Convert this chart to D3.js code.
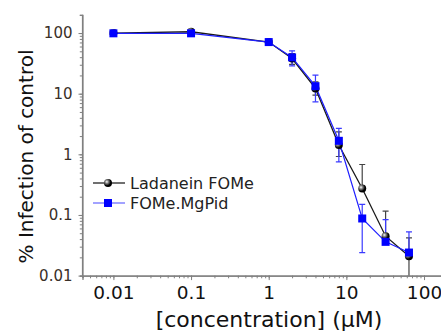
<!DOCTYPE html>
<html>
<head>
<meta charset="utf-8">
<script src="https://cdn.jsdelivr.net/npm/d3@7"></script>
<style>
  body { margin: 0; background: #fff; }
  svg text { font-family: "DejaVu Sans", sans-serif; }
</style>
</head>
<body>
<div id="chart"></div>
<script>
// Concentrations (µM) and % infection of control
const conc = [0.01, 0.1, 1, 2, 4, 8, 16, 32, 64];

const ladanein   = [100, 105, 71, 38,   12.2, 1.42, 0.273, 0.0447, 0.0209];
const ladaneinHi = [100, 105, 71, 46,   15.7, 2.35, 0.68,  0.116,  0.042];
const ladaneinLo = [100, 105, 71, 30.4, 9.5,  0.92, 0.273, 0.0447, 0.005];

const mgpid   = [99, 99, 71, 39.7, 13.3, 1.67, 0.0875, 0.036, 0.024];
const mgpidHi = [99, 99, 71, 51,   20.3, 2.67, 0.149,  0.084, 0.0526];
const mgpidLo = [99, 99, 71, 28.8, 7.35, 0.75, 0.024,  0.036, 0.024];

const xTicks = [0.01, 0.1, 1, 10, 100];
const xTickLabels = ['0.01', '0.1', '1', '10', '100'];
const yTicks = [0.01, 0.1, 1, 10, 100];
const yTickLabels = ['0.01', '0.1', '1', '10', '100'];

const seriesNames = ['Ladanein FOMe', 'FOMe.MgPid'];

const W = 441, H = 333;

const svg = d3.select('#chart').append('svg')
  .attr('width', W)
  .attr('height', H);

// sphere look for the black markers
const defs = svg.append('defs');
const grad = defs.append('radialGradient')
  .attr('id', 'sphere')
  .attr('cx', '35%').attr('cy', '35%').attr('r', '65%');
grad.append('stop').attr('offset', '0%').attr('stop-color', '#ffffff');
grad.append('stop').attr('offset', '30%').attr('stop-color', '#8a8a8a');
grad.append('stop').attr('offset', '75%').attr('stop-color', '#000000');

const x = d3.scaleLog().domain([0.004, 200]).range([82.5, 447.4]);
const y = d3.scaleLog().domain([0.01, 200]).range([275.6, 14.8]);

defs.append('clipPath').attr('id', 'plot')
  .append('rect')
  .attr('x', 82.5).attr('y', 0)
  .attr('width', W).attr('height', 275.6);

// axes: minor ticks then major ticks with labels
const axisColor = '#808080';

const xMinor = svg.append('g')
  .attr('transform', 'translate(0,275.6)')
  .call(d3.axisBottom(x).ticks(10, '').tickSize(2.7).tickFormat(''));
const xMajor = svg.append('g')
  .attr('transform', 'translate(0,275.6)')
  .call(d3.axisBottom(x).tickValues(xTicks).tickSize(4.5).tickPadding(6)
    .tickFormat((d, i) => xTickLabels[i]));

const yMinor = svg.append('g')
  .attr('transform', 'translate(82.5,0)')
  .call(d3.axisLeft(y).ticks(10, '').tickSize(2.7).tickFormat(''));
const yMajor = svg.append('g')
  .attr('transform', 'translate(82.5,0)')
  .call(d3.axisLeft(y).tickValues(yTicks).tickSize(4).tickPadding(6)
    .tickFormat((d, i) => yTickLabels[i]));

[xMinor, xMajor, yMinor, yMajor].forEach(g => {
  g.select('.domain').attr('stroke', axisColor).attr('stroke-width', 1.2);
  g.selectAll('.tick line').attr('stroke', axisColor);
});
xMajor.selectAll('.tick text').attr('fill', '#111').style('font-size', '18.5px');
yMajor.selectAll('.tick text').attr('fill', '#3a3028').style('font-size', '15px');
yMajor.select('.domain').attr('d', 'M-0,14.8V275.6');

// axis titles
svg.append('text')
  .attr('x', 269).attr('y', 327)
  .attr('text-anchor', 'middle')
  .attr('fill', '#111')
  .style('font-size', '22px')
  .text('[concentration] (µM)');

svg.append('text')
  .attr('transform', 'translate(33,156.5) rotate(-90)')
  .attr('text-anchor', 'middle')
  .attr('fill', '#111')
  .style('font-size', '20px')
  .text('% Infection of control');

const plot = svg.append('g').attr('clip-path', 'url(#plot)');

const line = d3.line()
  .x(d => x(d[0]))
  .y(d => y(d[1]));

const drawErr = (vals, lo, hi, color) => {
  const g = plot.append('g').attr('stroke', color).attr('stroke-width', 1.2);
  conc.forEach((c, i) => {
    const cx = x(c);
    if (hi[i] > vals[i]) {
      g.append('line').attr('x1', cx).attr('x2', cx)
        .attr('y1', y(vals[i])).attr('y2', y(hi[i]));
      g.append('line').attr('x1', cx - 3).attr('x2', cx + 3)
        .attr('y1', y(hi[i])).attr('y2', y(hi[i]));
    }
    if (lo[i] < vals[i]) {
      g.append('line').attr('x1', cx).attr('x2', cx)
        .attr('y1', y(vals[i])).attr('y2', y(lo[i]));
      g.append('line').attr('x1', cx - 3).attr('x2', cx + 3)
        .attr('y1', y(lo[i])).attr('y2', y(lo[i]));
    }
  });
};

// Ladanein FOMe (black spheres)
drawErr(ladanein, ladaneinLo, ladaneinHi, '#444');
plot.append('path')
  .datum(conc.map((c, i) => [c, ladanein[i]]))
  .attr('fill', 'none')
  .attr('stroke', '#1a1a1a')
  .attr('stroke-width', 1.3)
  .attr('d', line);

// FOMe.MgPid (blue squares)
drawErr(mgpid, mgpidLo, mgpidHi, '#3a3aff');
plot.append('path')
  .datum(conc.map((c, i) => [c, mgpid[i]]))
  .attr('fill', 'none')
  .attr('stroke', '#1f1fff')
  .attr('stroke-width', 1.2)
  .attr('d', line);

plot.selectAll('circle.lad')
  .data(conc.map((c, i) => [c, ladanein[i]]))
  .join('circle')
  .attr('class', 'lad')
  .attr('cx', d => x(d[0]))
  .attr('cy', d => y(d[1]))
  .attr('r', 4)
  .attr('fill', 'url(#sphere)');

plot.selectAll('rect.mg')
  .data(conc.map((c, i) => [c, mgpid[i]]))
  .join('rect')
  .attr('class', 'mg')
  .attr('x', d => x(d[0]) - 4)
  .attr('y', d => y(d[1]) - 4)
  .attr('width', 8)
  .attr('height', 8)
  .attr('fill', '#0000ff');

// legend
const leg = svg.append('g');
leg.append('line').attr('x1', 93).attr('x2', 125).attr('y1', 183).attr('y2', 183)
  .attr('stroke', '#222').attr('stroke-width', 1.3);
leg.append('circle').attr('cx', 108).attr('cy', 183).attr('r', 4)
  .attr('fill', 'url(#sphere)');
leg.append('line').attr('x1', 93).attr('x2', 125).attr('y1', 203).attr('y2', 203)
  .attr('stroke', '#7070ff').attr('stroke-width', 1.3);
leg.append('rect').attr('x', 104).attr('y', 199).attr('width', 8).attr('height', 8)
  .attr('fill', '#0000ff');
leg.selectAll('text')
  .data(seriesNames)
  .join('text')
  .attr('x', 130)
  .attr('y', (d, i) => 188.5 + i * 20)
  .attr('fill', '#222')
  .style('font-size', '16px')
  .text(d => d);
</script>
</body>
</html>
